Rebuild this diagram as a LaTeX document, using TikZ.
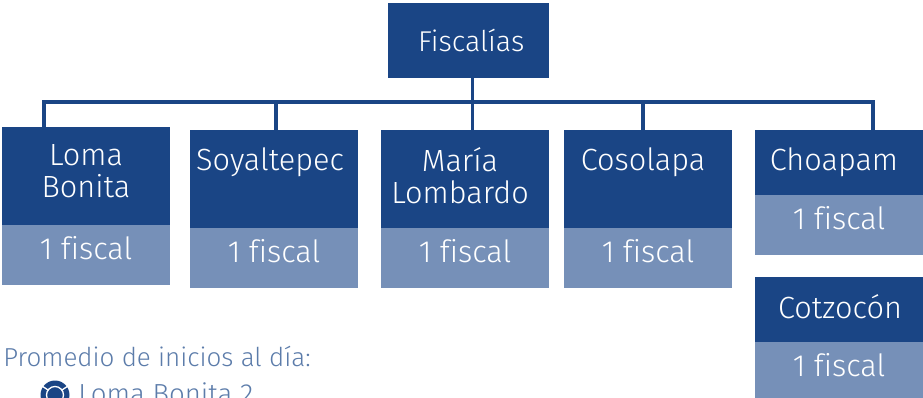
\documentclass[tikz,border=0pt]{standalone}
\usepackage{fontspec}
\setmainfont[Ligatures=NoCommon]{Fira Sans Light}
\usetikzlibrary{calc, positioning}
\definecolor{fiscaldark}{HTML}{1A4585}
\definecolor{fiscallight}{HTML}{7690B8}
\definecolor{fiscaltext}{HTML}{5C7CAA}
\def\px{0.75pt}
\def\mw{126pt}
\def\mh{45pt}
\tikzset{
    headborder/.style = {
        fill=fiscaldark, rectangle, minimum width=\mw, inner sep=0pt, outer sep=0pt
    },
    footborder/.style = {
        fill=fiscallight, rectangle, minimum width=\mw, minimum height=\mh, inner sep=0pt, outer sep=0pt, text=white, text height=12pt, text depth=4.5pt, font=\fontsize{23}{24}\selectfont
    },
    headtext/.style = {
        text=white, align=center, inner sep=0pt, font=\fontsize{23}{24}\selectfont
    },
    link/.style = {
        draw=fiscaldark, line width=2.3pt
    },
    notetext/.style = {
        text=fiscaltext, inner sep=0pt
    },
    pics/Fiscalia/.style n args = {3}{
        code = {
            \node [headborder, minimum height=#2*\px, anchor=north west](-head){};
            \node [footborder, below=0pt of -head](-foot){1 fiscal};
            \node [headtext, anchor=north, xshift=#3*\px, yshift=-17*\px] (-name) at (-head.north) {#1};
        }
    },
}
\begin{document}
\begin{tikzpicture}[x=0.75pt, y=-0.75pt]
        \useasboundingbox (0,0) rectangle (923,398);
        % Place the blocks
        \node [headborder, minimum width=161*\px, minimum height=75*\px, anchor=north west, headtext, font=\fontsize{21.5}{24}\selectfont] (top) at (388,3) {\hspace{4pt}Fiscalías};
        \draw pic (b1) at (2,127) {Fiscalia={Loma\\Bonita}{98}{0}};
        \draw pic (b2) at (190,130) {Fiscalia={Soyaltepec}{98}{-4}};
        \draw pic (b3) at (381,130) {Fiscalia={María\\Lombardo}{98}{-5}};
        \draw pic (b4) at (564,130) {Fiscalia={Cosolapa}{98}{-5}};
        \draw pic (b5) at (755,130) {Fiscalia={Choapam}{65}{-5}};
        \draw pic (b6) at (755,277) {Fiscalia={Cotzocón}{65}{1}};
        % Draw connections
        \draw[link] ([xshift=4*\px] top.south) -- ++(0,24) coordinate(a);
        \draw[link] (a) -| ([xshift=-42*\px] b1-head.north);
        \draw[link] (a) -| ([xshift=2*\px] b2-head.north);
        \draw[link] (a) -- (a |- b3-head.north);
        \draw[link] (a) -| ([xshift=-5*\px] b4-head.north);
        \draw[link] (a) -| ([xshift=34*\px] b5-head.north);
        % Place the note
        \node [notetext, anchor=base west, font=\fontsize{19.5}{24}\selectfont] (note) at (3,366) {Promedio de inicios al día:};
        \node [notetext, anchor=base west, font=\fontsize{20.7}{24}\selectfont] (place) at (78,403) {Loma Bonita 2};
        \fill[fiscaldark] (55,395) circle (14.5);
        \draw[white, line width=1pt] (55,395) circle (8.5);
        \draw[white, line width=1pt] (62,390) -- (68,386);
        \draw[white, line width=1pt] (48,390) -- (42,386);
\end{tikzpicture}
\end{document}
